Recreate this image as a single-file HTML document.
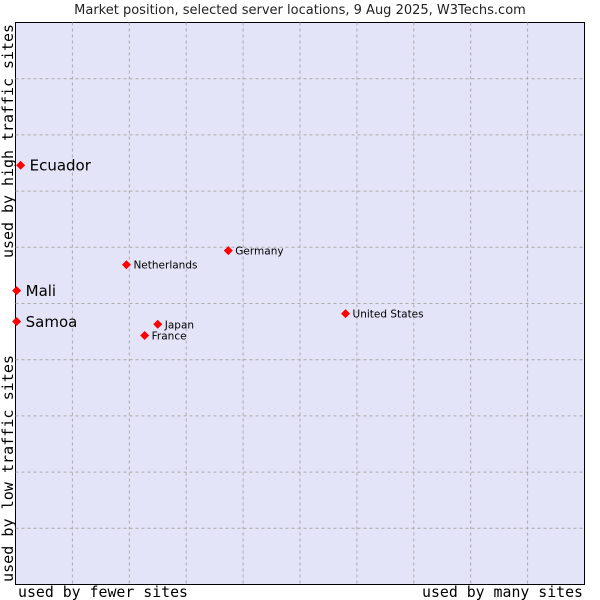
<!DOCTYPE html>
<html><head><meta charset="utf-8"><style>
body{margin:0;background:#fff;width:600px;height:600px;overflow:hidden}
svg{display:block}
</style></head><body>
<svg id="chart" width="600" height="600">
<text x="300" y="14" text-anchor="middle" font-family="DejaVu Sans, sans-serif" font-size="13" fill="#222">Market position, selected server locations, 9 Aug 2025, W3Techs.com</text>
<rect x="15.5" y="22.5" width="569" height="562" fill="#e4e4f8" stroke="#000" stroke-width="1"/>
<g id="grid"></g>
<text x="18" y="597" font-family="DejaVu Sans Mono, monospace" font-size="15" textLength="170" lengthAdjust="spacingAndGlyphs" fill="#000">used by fewer sites</text>
<text x="422" y="597" font-family="DejaVu Sans Mono, monospace" font-size="15" textLength="161" lengthAdjust="spacingAndGlyphs" fill="#000">used by many sites</text>
<text transform="translate(13,582) rotate(-90)" font-family="DejaVu Sans Mono, monospace" font-size="15" textLength="227" lengthAdjust="spacingAndGlyphs" fill="#000">used by low traffic sites</text>
<text transform="translate(13,258) rotate(-90)" font-family="DejaVu Sans Mono, monospace" font-size="15" textLength="234" lengthAdjust="spacingAndGlyphs" fill="#000">used by high traffic sites</text>
<g id="points"></g>
</svg>
<script>
const names=["Ecuador","Mali","Samoa","Netherlands","Germany","Japan","France","United States"];
const xVals=[0.9,0.2,0.2,19.5,37.4,25.0,22.7,58.0];
const yVals=[74.6,52.3,46.8,56.9,59.4,46.3,44.3,48.2];
const big=[true,true,true,false,false,false,false,false];
const X0=15.5,X1=584.5,Y0=584.5,Y1=22.5;
const sx=v=>X0+(X1-X0)*v/100, sy=v=>Y0-(Y0-Y1)*v/100;
const NS="http://www.w3.org/2000/svg";
const grid=document.getElementById('grid');
for(let i=1;i<10;i++){
  const v=document.createElementNS(NS,'line');
  v.setAttribute('x1',sx(i*10));v.setAttribute('x2',sx(i*10));v.setAttribute('y1',Y1);v.setAttribute('y2',Y0);
  v.setAttribute('stroke','#aaaaaa');v.setAttribute('stroke-dasharray','3,3');
  
  
  grid.appendChild(v);
  const h=document.createElementNS(NS,'line');
  h.setAttribute('y1',sy(i*10));h.setAttribute('y2',sy(i*10));h.setAttribute('x1',X0);h.setAttribute('x2',X1);
  h.setAttribute('stroke','#aaaaaa');h.setAttribute('stroke-dasharray','3,3');
  
  
  grid.appendChild(h);
}
const pts=document.getElementById('points');
names.forEach((n,i)=>{
  const x=sx(xVals[i]),y=sy(yVals[i]);
  const p=document.createElementNS(NS,'path');
  p.setAttribute('d',`M${x},${y-4.5}L${x+4.5},${y}L${x},${y+4.5}L${x-4.5},${y}Z`);
  p.setAttribute('fill','#ff0000');
  
  
  pts.appendChild(p);
  const t=document.createElementNS(NS,'text');
  t.setAttribute('x',x+(big[i]?9:7));t.setAttribute('y',y+(big[i]?5.5:4));
  t.setAttribute('font-family','DejaVu Sans, sans-serif');
  t.setAttribute('font-size',big[i]?'15':'10.5');
  t.setAttribute('fill','#000');
  t.textContent=n;
  
  
  pts.appendChild(t);
});
</script>
</body></html>
